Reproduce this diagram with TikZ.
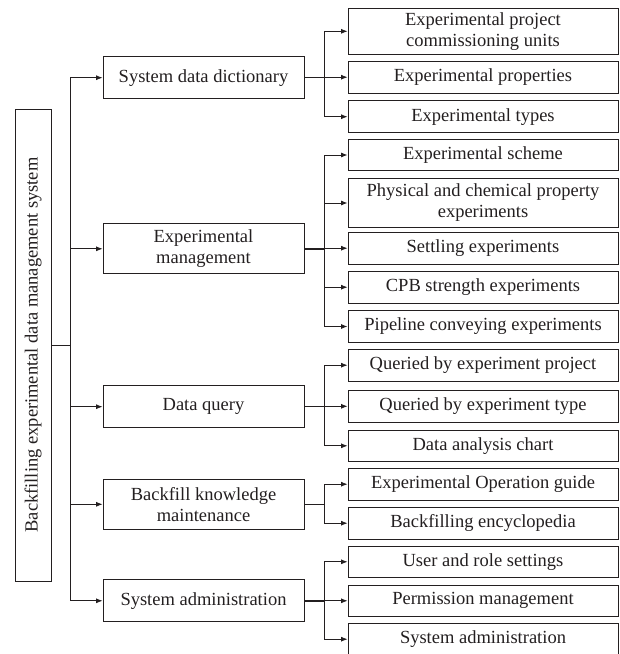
\documentclass[tikz,border=0pt]{standalone}
\usepackage{fontspec}
\setmainfont{Liberation Serif}
\usetikzlibrary{arrows.meta}
\definecolor{ink}{HTML}{231F20}
\begin{document}
\begin{tikzpicture}[x=1pt,y=-1pt,
  box/.style={draw=ink,line width=0.9pt,text=ink,inner sep=1pt,align=center,
    font=\fontsize{18.5}{21}\selectfont},
  lone/.style={box,minimum width=201pt,minimum height=42pt},
  ltwo/.style={box,minimum width=270pt,minimum height=31.6pt},
  arr/.style={draw=ink,line width=0.8pt,-{Latex[length=6.5pt,width=5pt]}},
  stub/.style={draw=ink,line width=1.4pt}]
\useasboundingbox (0,0) rectangle (620,654);
% root
\node[box,rotate=90,minimum width=472pt,minimum height=36pt] (root) at (33,345)
  {Backfilling experimental data management system};
% level 1
\node[lone] (sdd) at (203.5,77.7) {System data dictionary};
\node[lone,minimum height=50pt] (em) at (203.5,248.8) {Experimental\\management};
\node[lone] (dq) at (203.5,406.7) {Data query};
\node[lone,minimum height=50pt] (bkm) at (203.5,504.3) {Backfill knowledge\\maintenance};
\node[lone] (sa) at (203.5,600.8) {System administration};
% level 2
\node[ltwo,minimum height=46pt] (epcu) at (483,31.3) {Experimental project\\commissioning units};
\node[ltwo] (ep) at (483,77.2) {Experimental properties};
\node[ltwo] (et) at (483,116.7) {Experimental types};
\node[ltwo] (es) at (483,155) {Experimental scheme};
\node[ltwo,minimum height=49.4pt] (pcpe) at (483,203) {Physical and chemical property\\experiments};
\node[ltwo] (se) at (483,248.2) {Settling experiments};
\node[ltwo] (cpb) at (483,287.2) {CPB strength experiments};
\node[ltwo] (pce) at (483,326.5) {Pipeline conveying experiments};
\node[ltwo] (qep) at (483,365.2) {Queried by experiment project};
\node[ltwo] (qet) at (483,406.3) {Queried by experiment type};
\node[ltwo] (dac) at (483,445.8) {Data analysis chart};
\node[ltwo] (eog) at (483,484.2) {Experimental Operation guide};
\node[ltwo] (be) at (483,523.2) {Backfilling encyclopedia};
\node[ltwo] (urs) at (483,561.8) {User and role settings};
\node[ltwo] (pm) at (483,600.8) {Permission management};
\node[ltwo] (sa2) at (483,639.2) {System administration};
% trunk
\coordinate (t) at (70,345);
\draw[draw=ink,line width=0.8pt] (root.south) -- (t);
\foreach \n in {sdd,em,dq,bkm,sa} \draw[arr] (t) |- (\n.west);
% branches
\coordinate (b1) at (324,77.7);
\coordinate (b2) at (324,248.8);
\coordinate (b3) at (324,406.7);
\coordinate (b4) at (324,504.3);
\coordinate (b5) at (324,600.8);
\draw[stub] (sdd.east) -- (b1);
\draw[stub] (em.east) -- (b2);
\draw[stub] (dq.east) -- (b3);
\draw[stub] (bkm.east) -- (b4);
\draw[stub] (sa.east) -- (b5);
\foreach \n in {epcu,ep,et} \draw[arr] (b1) |- (\n.west);
\foreach \n in {es,pcpe,se,cpb,pce} \draw[arr] (b2) |- (\n.west);
\foreach \n in {qep,qet,dac} \draw[arr] (b3) |- (\n.west);
\foreach \n in {eog,be} \draw[arr] (b4) |- (\n.west);
\foreach \n in {urs,pm,sa2} \draw[arr] (b5) |- (\n.west);
\end{tikzpicture}
\end{document}
